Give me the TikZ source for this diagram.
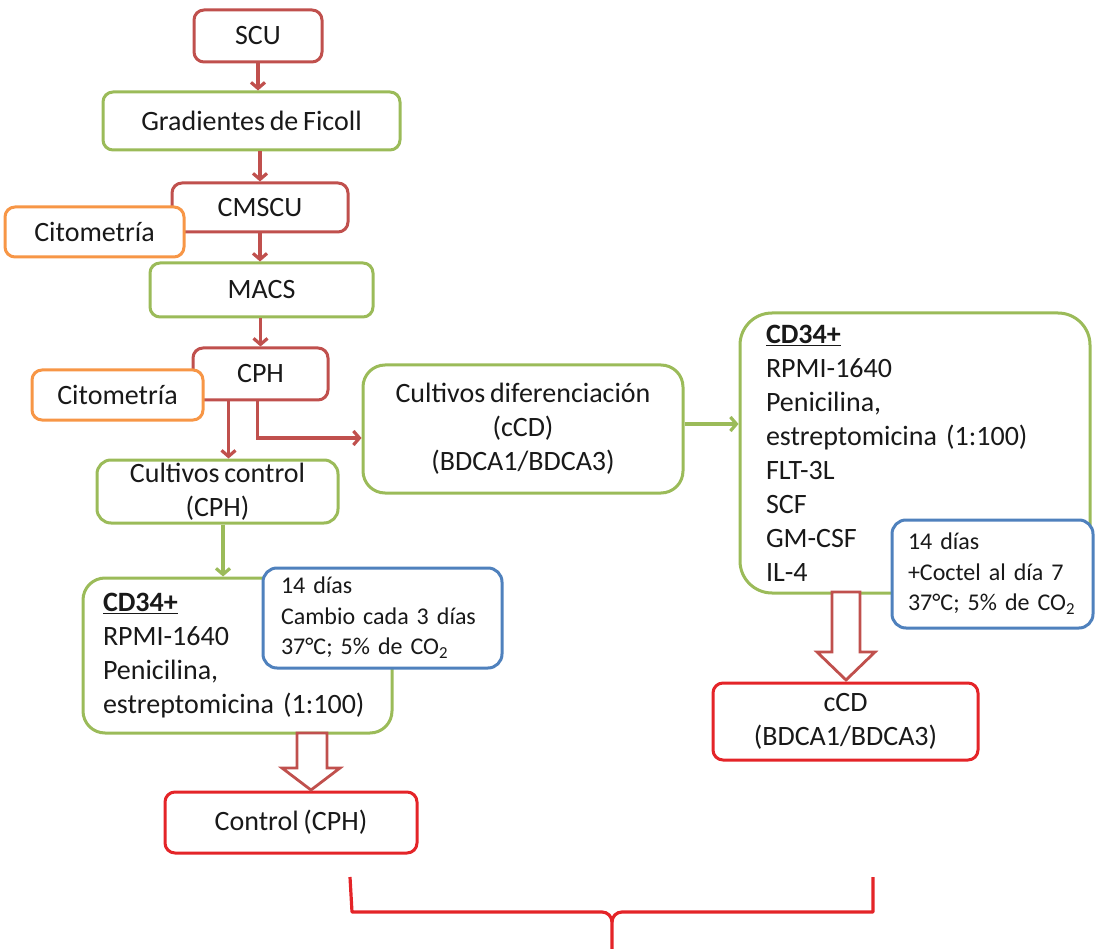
\documentclass[tikz,border=0pt]{standalone}
\usepackage{fontspec}
\setmainfont{Carlito}[WordSpace=0.75]
\usetikzlibrary{arrows.meta,calc}
\definecolor{rd}{HTML}{C0504D}
\definecolor{brd}{RGB}{228,36,40}
\definecolor{gr}{HTML}{9BBB59}
\definecolor{og}{HTML}{F79646}
\definecolor{bl}{HTML}{4F81BD}
\definecolor{tx}{RGB}{25,25,25}
\begin{document}
\begin{tikzpicture}[x=1pt,y=-1pt,
  box/.style={draw, line width=3pt, fill=white, rounded corners=10pt, inner sep=0pt,
    text=tx, font=\fontsize{28}{34}\selectfont, align=center},
  redbox/.style={box, draw=rd},
  brightbox/.style={box, draw=brd},
  greenbox/.style={box, draw=gr},
  orangebox/.style={box, draw=og},
  bluebox/.style={box, draw=bl, font=\fontsize{24}{30.5}\selectfont},
  rarr/.style={draw=rd, line width=3.2pt, -{Straight Barb[length=6pt,width=14pt]}},
  garr/.style={draw=gr, line width=3.2pt, -{Straight Barb[length=6pt,width=14pt]}},
  blockarr/.style={draw=rd, line width=2.8pt, fill=white, line join=miter},
  bracestyle/.style={draw=brd, line width=3.2pt, line join=round}
]
\useasboundingbox (0,0) rectangle (1095,949);

% main column
\node[redbox, minimum width=128pt, minimum height=52pt] (scu) at (258,36) {SCU};
\node[greenbox, minimum width=297pt, minimum height=58pt] (grad) at (251.5,121) {Gradientes de Ficoll};
\node[redbox, minimum width=176pt, minimum height=49pt] (cmscu) at (260,207.5) {CMSCU};
\node[orangebox, minimum width=179pt, minimum height=50pt] (cit1) at (94.5,232) {Citometría};
\node[greenbox, minimum width=223pt, minimum height=54pt] (macs) at (261.5,290) {MACS};
\node[redbox, minimum width=135pt, minimum height=52pt] (cph) at (260.5,374) {CPH};
\node[orangebox, minimum width=171pt, minimum height=50pt] (cit2) at (117.5,395) {Citometría};
\node[greenbox, rounded corners=22pt, minimum width=320pt, minimum height=128pt] (dif) at (523,429)
  {Cultivos diferenciación\\(cCD)\\(BDCA1/BDCA3)};
\node[greenbox, rounded corners=14pt, minimum width=241pt, minimum height=63pt] (cc) at (217.5,491.5)
  {Cultivos control\\(CPH)};

% left culture
\node[greenbox, rounded corners=22pt, align=left, text width=269pt, inner xsep=20pt, minimum height=155pt] (cdl) at (237.5,655.5)
  {\underline{\textbf{CD34+}}\\RPMI-1640\\Penicilina,\\estreptomicina (1:100)};
\node[bluebox, rounded corners=14pt, align=left, text width=203pt, inner xsep=18pt, minimum height=100pt] (bl) at (382.5,618)
  {\mbox{14 días}\\\mbox{Cambio cada 3 días}\\\mbox{37°C; 5\% de CO\textsubscript{2}}};

% right culture
\node[greenbox, rounded corners=32pt, align=left, text width=298pt, inner xsep=26pt, minimum height=280pt] (cdr) at (915,453)
  {\underline{\textbf{CD34+}}\\RPMI-1640\\Penicilina,\\estreptomicina (1:100)\\FLT-3L\\SCF\\GM-CSF\\IL-4};
\node[bluebox, rounded corners=14pt, align=left, text width=169pt, inner xsep=16pt, minimum height=108pt] (br) at (992.5,574)
  {\mbox{14 días}\\\mbox{+Coctel al día 7}\\\mbox{37°C; 5\% de CO\textsubscript{2}}};

% results
\node[brightbox, minimum width=252pt, minimum height=61pt] (ctrl) at (291,822.5) {Control (CPH)};
\node[brightbox, minimum width=265pt, minimum height=77pt] (ccd) at (845.5,721.5) {cCD\\(BDCA1/BDCA3)};

% connectors
\draw[rarr] (scu.south) -- (scu.south |- grad.north);
\draw[rarr] (cmscu.north |- grad.south) -- (cmscu.north);
\draw[rarr] (cmscu.south) -- (cmscu.south |- macs.north);
\draw[rarr] (cph.north |- macs.south) -- (cph.north);
\coordinate (s1) at ($(cph.south west)+(37,0)$);
\draw[rarr] (s1) -- (s1 |- cc.north);
\coordinate (s2) at ($(cph.south west)+(66,0)$);
\coordinate (t2) at ($(dif.west)+(0,9)$);
\draw[rarr] (s2) |- (t2);
\coordinate (s3) at ($(cc.south)+(5.5,0)$);
\draw[garr] (s3) -- (s3 |- cdl.north);
\coordinate (s4) at ($(dif.east)+(0,-5)$);
\draw[garr] (s4) -- (s4 -| cdr.west);

% block arrows
\draw[blockarr] (297,733) -- (297,768) -- (282,768) -- (311,790) -- (340,768) -- (327,768) -- (327,733) -- cycle;
\draw[blockarr] (832,592) -- (832,652) -- (817,652) -- (846,680) -- (875,652) -- (860,652) -- (860,592) -- cycle;

% brace
\draw[bracestyle] (350,877) -- (352,912) -- (602,912) to[out=0,in=90] (612,922) -- (612,949);
\draw[bracestyle] (873,877) -- (873,912) -- (622,912) to[out=180,in=90] (612,922);
\end{tikzpicture}
\end{document}
